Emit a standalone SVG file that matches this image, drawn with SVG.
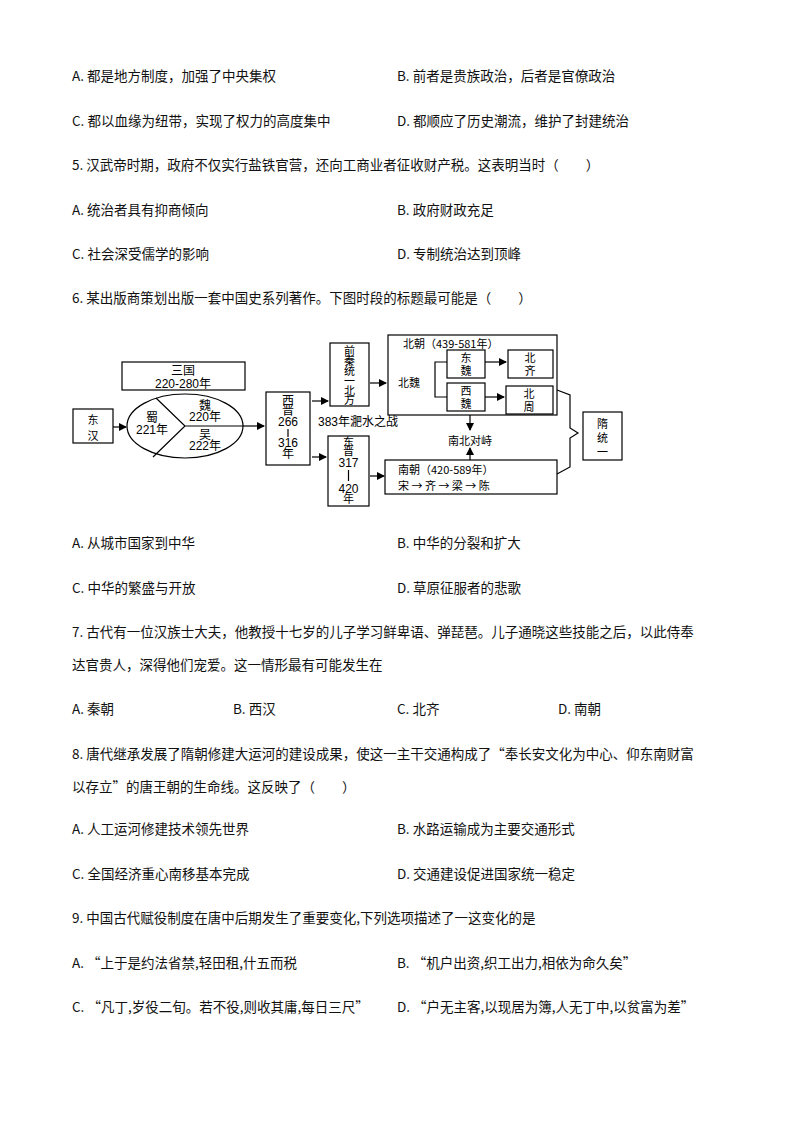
<svg xmlns="http://www.w3.org/2000/svg" width="794" height="1123" viewBox="0 0 794 1123">
<defs><marker id="ah" markerWidth="8" markerHeight="8" refX="7" refY="4" orient="auto" markerUnits="userSpaceOnUse"><path d="M0,0L8,4L0,8z" fill="#000"/></marker></defs>
<style>
.q{font-family:"Noto Sans CJK SC","Noto Sans",sans-serif;font-size:13.5px;fill:#111}
.d{font-family:"Noto Sans CJK SC",sans-serif;font-size:11px;fill:#000}
.n{font-family:"Liberation Sans","Noto Sans CJK SC",sans-serif;font-size:12px;fill:#000}
.b{fill:#fff;stroke:#000;stroke-width:1.2}
.l{stroke:#000;stroke-width:1.2;fill:none}
.a{stroke:#000;stroke-width:1.2;fill:none;marker-end:url(#ah)}
</style>
<rect width="794" height="1123" fill="#fff"/>
<g id="text">
<text class="q" x="72" y="81">A. 都是地方制度，加强了中央集权</text>
<text class="q" x="397" y="81">B. 前者是贵族政治，后者是官僚政治</text>
<text class="q" x="72" y="126">C. 都以血缘为纽带，实现了权力的高度集中</text>
<text class="q" x="397" y="126">D. 都顺应了历史潮流，维护了封建统治</text>
<text class="q" x="72" y="170">5. 汉武帝时期，政府不仅实行盐铁官营，还向工商业者征收财产税。这表明当时（　　）</text>
<text class="q" x="72" y="215">A. 统治者具有抑商倾向</text>
<text class="q" x="397" y="215">B. 政府财政充足</text>
<text class="q" x="72" y="259">C. 社会深受儒学的影响</text>
<text class="q" x="397" y="259">D. 专制统治达到顶峰</text>
<text class="q" x="72" y="303">6. 某出版商策划出版一套中国史系列著作。下图时段的标题最可能是（　　）</text>
<text class="q" x="72" y="548">A. 从城市国家到中华</text>
<text class="q" x="397" y="548">B. 中华的分裂和扩大</text>
<text class="q" x="72" y="593">C. 中华的繁盛与开放</text>
<text class="q" x="397" y="593">D. 草原征服者的悲歌</text>
<text class="q" x="72" y="637">7. 古代有一位汉族士大夫，他教授十七岁的儿子学习鲜卑语、弹琵琶。儿子通晓这些技能之后，以此侍奉</text>
<text class="q" x="72" y="670">达官贵人，深得他们宠爱。这一情形最有可能发生在</text>
<text class="q" x="72" y="714">A. 秦朝</text>
<text class="q" x="233" y="714">B. 西汉</text>
<text class="q" x="397" y="714">C. 北齐</text>
<text class="q" x="558" y="714">D. 南朝</text>
<text class="q" x="72" y="759">8. 唐代继承发展了隋朝修建大运河的建设成果，使这一主干交通构成了“奉长安文化为中心、仰东南财富</text>
<text class="q" x="72" y="792">以存立”的唐王朝的生命线。这反映了（　　）</text>
<text class="q" x="72" y="834">A. 人工运河修建技术领先世界</text>
<text class="q" x="397" y="834">B. 水路运输成为主要交通形式</text>
<text class="q" x="72" y="879">C. 全国经济重心南移基本完成</text>
<text class="q" x="397" y="879">D. 交通建设促进国家统一稳定</text>
<text class="q" x="72" y="923">9. 中国古代赋役制度在唐中后期发生了重要变化,下列选项描述了一这变化的是</text>
<text class="q" x="72" y="968">A. “上于是约法省禁,轻田租,什五而税</text>
<text class="q" x="397" y="968">B. “机户出资,织工出力,相依为命久矣”</text>
<text class="q" x="72" y="1012">C. “凡丁,岁役二旬。若不役,则收其庸,每日三尺”</text>
<text class="q" x="397" y="1012">D. “户无主客,以现居为簿,人无丁中,以贫富为差”</text>
</g>
<g id="donghan"><rect class="b" x="73" y="409" width="40" height="34"/><text class="d" x="93" y="424" text-anchor="middle" font-size="14">东</text><text class="d" x="93" y="440" text-anchor="middle" font-size="14">汉</text></g>
<g id="sanguo-title"><rect class="b" x="122" y="362" width="123" height="28"/><text class="n" x="183" y="375" text-anchor="middle" font-size="12">三国</text><text class="n" x="183" y="388" text-anchor="middle" font-size="12">220-280年</text></g>
<g id="sanguo"><ellipse class="b" cx="185" cy="426" rx="58" ry="32"/>
<path class="l" d="M156,398L185,426L153,457M185,426L243,426"/>
<text class="n" x="152" y="422" text-anchor="middle" font-size="8.5">蜀</text><text class="n" x="152" y="434" text-anchor="middle" font-size="8.5">221年</text>
<text class="n" x="205" y="410" text-anchor="middle" font-size="8.5">魏</text><text class="n" x="205" y="421" text-anchor="middle" font-size="8.5">220年</text>
<text class="n" x="205" y="439" text-anchor="middle" font-size="8.5">吴</text><text class="n" x="205" y="450" text-anchor="middle" font-size="8.5">222年</text></g>
<g id="xijin"><rect class="b" x="266" y="392" width="44" height="73"/>
<text class="n" x="288" y="405" text-anchor="middle" font-size="8.5">西</text><text class="n" x="288" y="415" text-anchor="middle" font-size="8.5">晋</text><text class="n" x="288" y="426" text-anchor="middle" font-size="9">266</text><line class="l" x1="288" y1="429" x2="288" y2="437"/><text class="n" x="288" y="447" text-anchor="middle" font-size="9">316</text><text class="n" x="288" y="458" text-anchor="middle" font-size="8.5">年</text></g>
<g id="qianqin"><rect class="b" x="330" y="343" width="39" height="63"/>
<text class="d" x="349.5" y="355" text-anchor="middle" font-size="8.5">前</text><text class="d" x="349.5" y="365" text-anchor="middle" font-size="8.5">秦</text><text class="d" x="349.5" y="375" text-anchor="middle" font-size="8.5">统</text><text class="d" x="349.5" y="385" text-anchor="middle" font-size="8.5">一</text><text class="d" x="349.5" y="395" text-anchor="middle" font-size="8.5">北</text><text class="d" x="349.5" y="404" text-anchor="middle" font-size="8.5">方</text></g>
<text class="n" x="318" y="426" font-size="11.5">383年淝水之战</text>
<g id="dongjin"><rect class="b" x="328" y="436" width="41" height="70"/>
<text class="d" x="348.5" y="446" text-anchor="middle" font-size="8.5">东</text><text class="d" x="348.5" y="455" text-anchor="middle" font-size="8.5">晋</text><text class="n" x="348.5" y="467" text-anchor="middle" font-size="11">317</text><line class="l" x1="348.5" y1="470" x2="348.5" y2="481"/><text class="n" x="348.5" y="493" text-anchor="middle" font-size="11">420</text><text class="d" x="348.5" y="503" text-anchor="middle" font-size="8.5">年</text></g>
<g id="beichao"><rect class="b" x="388" y="335" width="169" height="80"/>
<text class="d" x="403" y="348">北朝（439-581年）</text><text class="d" x="398" y="387">北魏</text>
<path class="l" d="M447,362H435V397H447"/>
<rect class="b" x="447" y="350" width="38" height="28"/><text class="d" x="466" y="362" text-anchor="middle">东</text><text class="d" x="466" y="375" text-anchor="middle">魏</text>
<rect class="b" x="508" y="350" width="45" height="28"/><text class="d" x="530" y="362" text-anchor="middle">北</text><text class="d" x="530" y="375" text-anchor="middle">齐</text>
<rect class="b" x="447" y="383" width="38" height="28"/><text class="d" x="466" y="395" text-anchor="middle">西</text><text class="d" x="466" y="408" text-anchor="middle">魏</text>
<rect class="b" x="506" y="386" width="47" height="28"/><text class="d" x="529" y="398" text-anchor="middle">北</text><text class="d" x="529" y="411" text-anchor="middle">周</text></g>
<text class="d" x="470" y="445" text-anchor="middle" font-size="11.5">南北对峙</text>
<g id="nanchao"><rect class="b" x="385" y="460" width="172" height="34"/>
<text class="d" x="398" y="474">南朝（420-589年）</text><text class="d" x="398" y="490" font-size="12">宋 → 齐 → 梁 → 陈</text></g>
<g id="sui"><rect class="b" x="583" y="412" width="39" height="48"/><text class="d" x="602.5" y="428" text-anchor="middle">隋</text><text class="d" x="602.5" y="442" text-anchor="middle">统</text><text class="d" x="602.5" y="456" text-anchor="middle">一</text></g>
<g id="connectors">
<line class="a" x1="113" y1="427" x2="126" y2="427"/>
<line class="a" x1="243" y1="426" x2="264" y2="426"/>
<line class="a" x1="312" y1="401" x2="328" y2="401"/>
<line class="a" x1="312" y1="457" x2="326" y2="457"/>
<line class="a" x1="370" y1="383" x2="386" y2="383"/>
<line class="a" x1="370" y1="476" x2="384" y2="476"/>
<line class="a" x1="485" y1="362" x2="506" y2="362"/>
<line class="a" x1="485" y1="397" x2="504" y2="397"/>
<line class="a" x1="470" y1="415" x2="470" y2="430"/>
<line class="a" x1="470" y1="460" x2="470" y2="448"/>
<path class="l" d="M557,390L570,395V428L578,433L570,438V467L557,474"/>
</g>
</svg>
